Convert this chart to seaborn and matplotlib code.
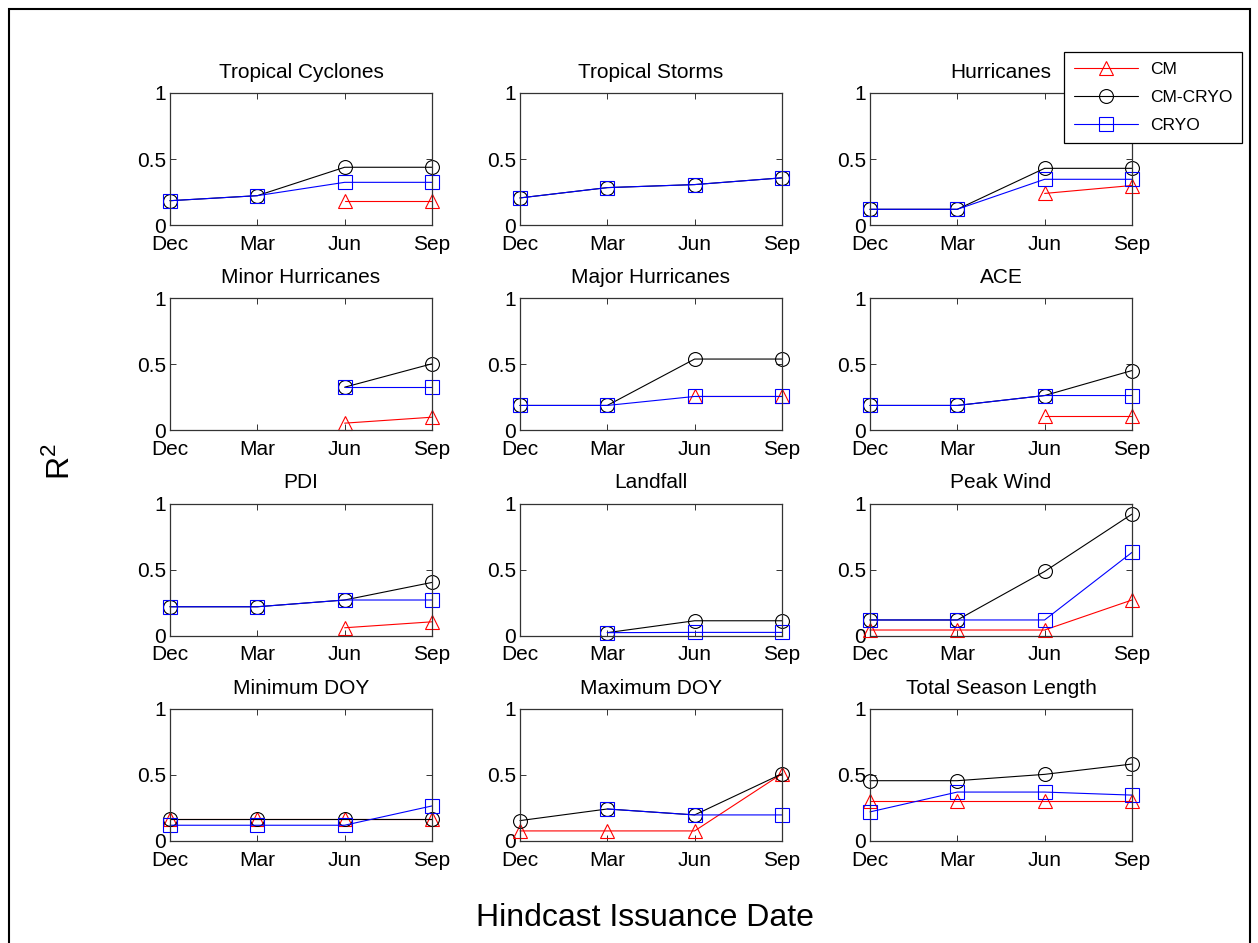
import matplotlib
matplotlib.use("Agg")
import matplotlib.pyplot as plt
from matplotlib.lines import Line2D
from matplotlib.patches import Rectangle
import numpy as np
import pandas as pd
import seaborn as sns

nan = np.nan
months = ["Dec", "Mar", "Jun", "Sep"]
titles = ["Tropical Cyclones", "Tropical Storms", "Hurricanes",
          "Minor Hurricanes", "Major Hurricanes", "ACE",
          "PDI", "Landfall", "Peak Wind",
          "Minimum DOY", "Maximum DOY", "Total Season Length"]

# R^2 per panel, one list per model (Dec, Mar, Jun, Sep)
cm = [
    [nan, nan, 0.185, 0.185],
    [nan, nan, nan, nan],
    [nan, nan, 0.24, 0.30],
    [nan, nan, 0.055, 0.10],
    [nan, nan, 0.257, 0.257],
    [nan, nan, 0.11, 0.11],
    [nan, nan, 0.06, 0.105],
    [nan, nan, nan, nan],
    [0.043, 0.043, 0.043, 0.27],
    [0.165, 0.165, 0.165, 0.165],
    [0.076, 0.076, 0.076, 0.508],
    [0.30, 0.30, 0.30, 0.30],
]
cm_cryo = [
    [0.185, 0.223, 0.438, 0.438],
    [0.206, 0.284, 0.307, 0.358],
    [0.12, 0.12, 0.43, 0.43],
    [nan, nan, 0.327, 0.504],
    [0.189, 0.189, 0.54, 0.54],
    [0.189, 0.189, 0.264, 0.453],
    [0.219, 0.219, 0.27, 0.403],
    [nan, 0.023, 0.113, 0.113],
    [0.119, 0.119, 0.486, 0.92],
    [0.164, 0.164, 0.164, 0.164],
    [0.154, 0.242, 0.197, 0.508],
    [0.456, 0.456, 0.504, 0.582],
]
cryo = [
    [0.185, 0.223, 0.324, 0.324],
    [0.206, 0.284, 0.307, 0.358],
    [0.12, 0.12, 0.347, 0.347],
    [nan, nan, 0.327, 0.327],
    [0.189, 0.189, 0.257, 0.257],
    [0.189, 0.189, 0.264, 0.264],
    [0.219, 0.219, 0.27, 0.27],
    [nan, 0.023, 0.025, 0.025],
    [0.119, 0.119, 0.119, 0.63],
    [0.119, 0.119, 0.119, 0.265],
    [nan, 0.242, 0.197, 0.197],
    [0.22, 0.37, 0.37, 0.347],
]

models = ["CM", "CM-CRYO", "CRYO"]
series = {"CM": cm, "CM-CRYO": cm_cryo, "CRYO": cryo}
colors = {"CM": "red", "CM-CRYO": "black", "CRYO": "blue"}
markers = {"CM": "^", "CM-CRYO": "o", "CRYO": "s"}

sns.set_style("ticks")
plt.rcParams["font.family"] = ["Liberation Sans", "DejaVu Sans"]
plt.rcParams["mathtext.fontset"] = "custom"
plt.rcParams["mathtext.rm"] = "Liberation Sans"
plt.rcParams["text.color"] = "black"
plt.rcParams["xtick.color"] = "black"
plt.rcParams["ytick.color"] = "black"

fig, axes = plt.subplots(4, 3, figsize=(12.58, 9.43), dpi=100)
fig.subplots_adjust(left=0.1351, right=0.8998, top=0.9014, bottom=0.1082,
                    wspace=0.336, hspace=0.553)

xpos = np.arange(len(months))
for i, ax in enumerate(axes.flat):
    for m in models:
        df = pd.DataFrame({"x": xpos, "r2": series[m][i]}).dropna()
        if df.empty:
            continue
        sns.lineplot(data=df, x="x", y="r2", ax=ax, color=colors[m],
                     marker=markers[m], ms=10, mfc="none", mec=colors[m],
                     mew=0.8, lw=0.8, clip_on=False)
    ax.set_xlim(0, 3)
    ax.set_ylim(0, 1)
    ax.set_xticks(xpos)
    ax.set_xticklabels(months)
    ax.set_yticks([0, 0.5, 1])
    ax.set_yticklabels(["0", "0.5", "1"])
    ax.set_xlabel("")
    ax.set_ylabel("")
    ax.set_title(titles[i], fontsize=15, pad=11, color="black")
    ax.tick_params(direction="in", top=True, right=True, length=4,
                   width=0.7, labelsize=15, color="#333333",
                   labelcolor="black")
    ax.tick_params(axis="x", pad=7)
    ax.tick_params(axis="y", pad=3)
    for sp in ax.spines.values():
        sp.set_visible(True)
        sp.set_linewidth(0.9)
        sp.set_color("#333333")

handles = [Line2D([], [], color=colors[m], marker=markers[m], ms=10,
                  mfc="none", mec=colors[m], mew=0.8, lw=0.8) for m in models]
leg = fig.legend(handles, models, loc="upper right",
                 bbox_to_anchor=(1242 / 1258, 1 - 52 / 943),
                 fontsize=12.5, frameon=True, fancybox=False, framealpha=1,
                 edgecolor="black", handlelength=3.7, handletextpad=0.7,
                 labelspacing=0.75, borderpad=0.55, borderaxespad=0)
leg.get_frame().set_linewidth(0.9)
for t in leg.get_texts():
    t.set_color("black")

fig.text(0.048, 0.51, "R$^2$", rotation=90, fontsize=23,
         ha="center", va="center", color="black")
fig.text(0.513, 0.0265, "Hindcast Issuance Date", fontsize=23,
         ha="center", va="center", color="black")

fig.add_artist(Rectangle((9 / 1258, -0.05), 1241 / 1258, 1.05 - 9 / 943,
                         transform=fig.transFigure, fill=False,
                         edgecolor="black", linewidth=1.5))

fig.savefig("out.png", dpi=100)
